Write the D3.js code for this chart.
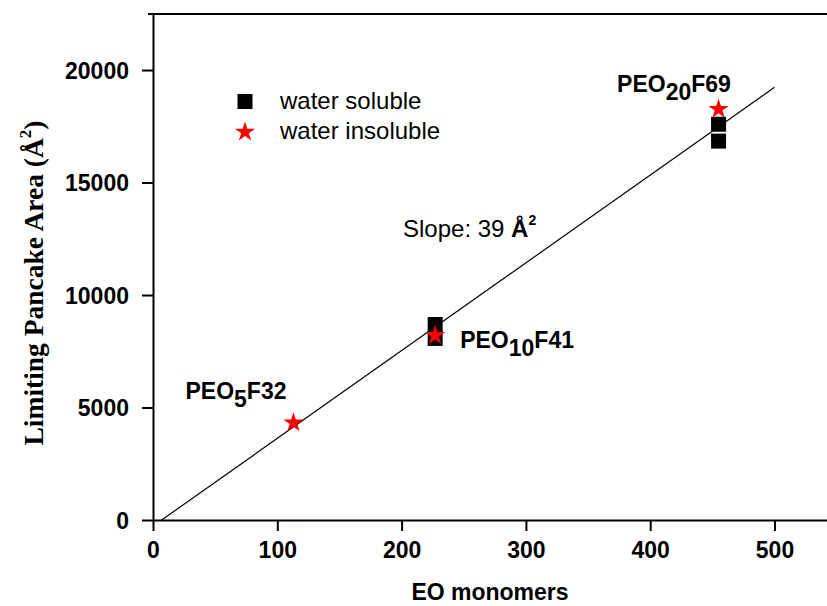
<!DOCTYPE html>
<html><head><meta charset="utf-8">
<script src="https://cdn.jsdelivr.net/npm/d3@7"></script>
<style>body{margin:0;background:#fff}svg{display:block}</style>
</head><body><svg id="c" width="827" height="606"></svg>
<script>
// ---- data ----
const xTicks = [0, 100, 200, 300, 400, 500];
const xMinor = [50, 150, 250, 350, 450];
const yTicks = [0, 5000, 10000, 15000, 20000];
const yMinor = [2500, 7500, 12500, 17500];
const solubleX = [227, 227, 455, 455];
const solubleY = [8690, 8070, 17590, 16840];
const insolubleX = [113, 227, 455];
const insolubleY = [4370, 8250, 18300];
const fitX = [7, 500];
const fitY = [0, 19230];
const labelMain = ["PEO", "PEO", "PEO"];
const labelSub = ["5", "10", "20"];
const labelTail = ["F32", "F41", "F69"];
const legendNames = ["water soluble", "water insoluble"];
const xTitle = "EO monomers";
const slopeValue = 39;

// ---- layout ----
const svg = d3.select("#c");
const x = d3.scaleLinear().domain([0, 550]).range([153, 153 + 550 * 1.243]);
const y = d3.scaleLinear().domain([0, 22490]).range([520, 14]);
const font = "'Liberation Sans', Arial, sans-serif";

// top frame line
svg.append("line").attr("x1", 148).attr("x2", 827).attr("y1", y(22490)).attr("y2", y(22490))
  .attr("stroke", "#000").attr("stroke-width", 2);

// x axis
const gx = svg.append("g").attr("transform", `translate(0,${y(0)})`);
gx.call(d3.axisBottom(x).tickValues(xMinor).tickSize(6).tickFormat("").tickSizeOuter(0));
gx.call(d3.axisBottom(x).tickValues(xTicks).tickSize(11).tickSizeOuter(0));
gx.selectAll("path.domain").attr("stroke-width", 2);
gx.selectAll(".tick line").attr("stroke-width", 2);
gx.selectAll(".tick text").attr("font-family", font).attr("font-size", 23).attr("font-weight", "bold")
  .attr("fill", "#000").attr("y", 38).attr("dy", 0);

// y axis
const gy = svg.append("g").attr("transform", `translate(${x(0)},0)`);
gy.call(d3.axisLeft(y).tickValues(yMinor).tickSize(6).tickFormat("").tickSizeOuter(0));
gy.call(d3.axisLeft(y).tickValues(yTicks).tickSize(11).tickSizeOuter(0).tickFormat(d3.format("d")));
gy.selectAll("path.domain").attr("stroke-width", 2);
gy.selectAll(".tick line").attr("stroke-width", 2);
gy.selectAll(".tick text").attr("font-family", font).attr("font-size", 23).attr("font-weight", "bold")
  .attr("fill", "#000").attr("x", -24).attr("dy", "0.36em");

// axis titles
svg.append("text").attr("x", (153 + 827) / 2).attr("y", 600).attr("text-anchor", "middle")
  .attr("font-family", font).attr("font-size", 23).attr("font-weight", "bold").text(xTitle);
const yt = svg.append("text").attr("transform", "translate(43,283) rotate(-90)").attr("text-anchor", "middle")
  .attr("font-family", "'Liberation Serif', 'Times New Roman', serif").attr("font-size", 27.5).attr("font-weight", "bold");
yt.append("tspan").text("Limiting Pancake Area (\u00C5");
yt.append("tspan").attr("font-size", 17).attr("dy", -12).text("2");
yt.append("tspan").attr("dy", 12).text(")");

// fit line
svg.append("line").attr("x1", x(fitX[0])).attr("y1", y(fitY[0])).attr("x2", x(fitX[1])).attr("y2", y(fitY[1]))
  .attr("stroke", "#000").attr("stroke-width", 1.2);

// points
const sq = d3.symbol().type(d3.symbolSquare).size(225);
const st = d3.symbol().type(d3.symbolStar).size(125);
svg.append("g").selectAll("path").data(d3.range(solubleX.length)).join("path")
  .attr("d", sq).attr("transform", i => `translate(${x(solubleX[i])},${y(solubleY[i])})`).attr("fill", "#000");
svg.append("g").selectAll("path").data(d3.range(insolubleX.length)).join("path")
  .attr("d", st).attr("transform", i => `translate(${x(insolubleX[i])},${y(insolubleY[i]) + 1})`).attr("fill", "#ff0000");

// point labels
const offs = [[-108, -22.5], [25, 14], [-101.5, -16.5]];
insolubleX.forEach((v, i) => {
  const t = svg.append("text").attr("x", x(v) + offs[i][0]).attr("y", y(insolubleY[i]) + offs[i][1])
    .attr("font-family", font).attr("font-size", 23).attr("font-weight", "bold");
  t.append("tspan").text(labelMain[i]);
  t.append("tspan").attr("dy", 8).text(labelSub[i]);
  t.append("tspan").attr("dy", -8).text(labelTail[i]);
});

// slope annotation
const sl = svg.append("text").attr("x", 403).attr("y", 236.5).attr("font-family", font).attr("font-size", 24);
sl.append("tspan").text(`Slope: ${slopeValue} `);
sl.append("tspan").attr("font-weight", "bold").text("\u00C5");
sl.append("tspan").attr("font-weight", "bold").attr("font-size", 14).attr("dy", -12).text("2");

// legend
const lg = svg.append("g");
lg.append("path").attr("d", sq).attr("transform", "translate(245,101.5)").attr("fill", "#000");
lg.append("path").attr("d", st).attr("transform", "translate(245,132)").attr("fill", "#ff0000");
legendNames.forEach((n, i) => {
  lg.append("text").attr("x", 280).attr("y", 109 + i * 30).attr("font-family", font).attr("font-size", 24).text(n);
});
</script></body></html>
